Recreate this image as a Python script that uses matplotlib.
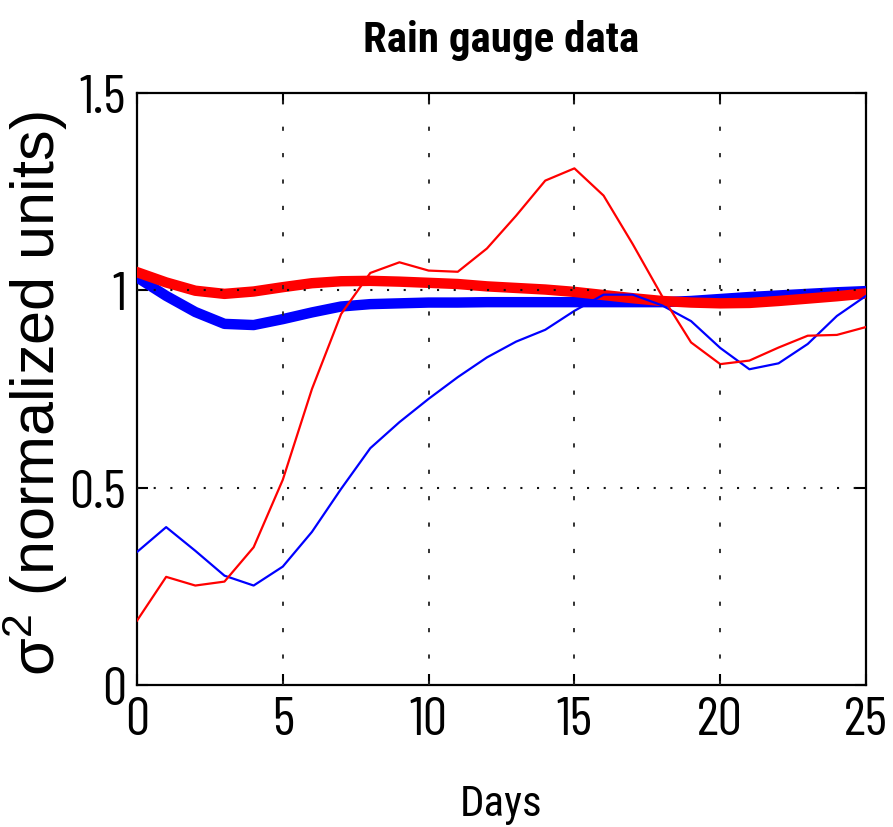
import matplotlib
matplotlib.use("Agg")
import matplotlib.pyplot as plt

plt.rcParams['lines.scale_dashes'] = False
plt.rcParams['mathtext.fontset'] = 'custom'
plt.rcParams['mathtext.rm'] = 'Liberation Sans'
plt.rcParams['mathtext.it'] = 'Liberation Sans:italic'

days = list(range(26))

thin_blue = [0.337, 0.400, 0.340, 0.277, 0.252, 0.300, 0.388, 0.497, 0.600, 0.666,
             0.725, 0.780, 0.830, 0.870, 0.900, 0.948, 0.989, 0.989, 0.962, 0.922,
             0.854, 0.800, 0.815, 0.864, 0.935, 0.986]
thin_red = [0.163, 0.274, 0.252, 0.262, 0.349, 0.520, 0.750, 0.940, 1.044, 1.071,
            1.050, 1.047, 1.106, 1.189, 1.278, 1.309, 1.240, 1.117, 0.986, 0.868,
            0.813, 0.822, 0.855, 0.885, 0.887, 0.907]
thick_blue = [1.033, 0.986, 0.945, 0.915, 0.912, 0.927, 0.944, 0.959, 0.965, 0.967,
              0.969, 0.969, 0.970, 0.970, 0.970, 0.970, 0.970, 0.970, 0.970, 0.973,
              0.978, 0.983, 0.987, 0.991, 0.995, 0.998]
thick_red = [1.046, 1.020, 0.999, 0.991, 0.997, 1.008, 1.018, 1.023, 1.024, 1.022,
             1.019, 1.016, 1.010, 1.006, 1.002, 0.996, 0.988, 0.980, 0.973, 0.969,
             0.967, 0.968, 0.973, 0.979, 0.985, 0.992]

x_ticks = [0, 5, 10, 15, 20, 25]
y_ticks = [0, 0.5, 1, 1.5]
y_tick_labels = ['0', '0.5', '1', '1.5']

narrow = 'Barlow Condensed'
title_font = 'Roboto Condensed'

fig = plt.figure(figsize=(8.93, 8.28), dpi=100)
ax = fig.add_axes([0.1534, 0.1715, 0.8164, 0.715])

ax.plot(days, thick_blue, color='#0000ff', lw=7.5, solid_joinstyle='round', zorder=3)
ax.plot(days, thick_red, color='#ff0000', lw=7.5, solid_joinstyle='round', zorder=4)
ax.plot(days, thin_blue, color='#0000ff', lw=1.6, zorder=5)
ax.plot(days, thin_red, color='#ff0000', lw=1.6, zorder=6)

ax.set_xlim(0, 25)
ax.set_ylim(0, 1.5)
ax.set_xticks(x_ticks)
ax.set_xticklabels([str(v) for v in x_ticks], fontfamily=narrow, fontsize=39)
ax.set_yticks(y_ticks)
ax.set_yticklabels(y_tick_labels, fontfamily=narrow, fontsize=39)

ax.tick_params(direction='in', length=8, width=1.5, top=True, right=True,
               colors='black')
ax.tick_params(axis='x', pad=8)
ax.tick_params(axis='y', pad=8)
for sp in ax.spines.values():
    sp.set_linewidth(1.6)

# dotted grid at the inner ticks, drawn over the curves
for xv in x_ticks[1:-1]:
    ax.axvline(xv, color='#222222', lw=1.3, linestyle=(0, (3, 16)), zorder=8)
for yv in [0.5, 1.0]:
    ax.axhline(yv, color='#111111', lw=1.5, linestyle=(0, (1.5, 10.5)), zorder=8)

ax.set_title('Rain gauge data', fontfamily=title_font, fontweight='bold',
             fontsize=31, pad=30)
ax.set_xlabel('Days', fontfamily=title_font, fontsize=31, labelpad=27)
ax.set_ylabel('σ$^{2}$ (normalized units)', fontfamily='Liberation Sans',
              fontsize=44)
ax.yaxis.set_label_coords(-0.092, 0.493)

fig.savefig('out.png', dpi=100)
